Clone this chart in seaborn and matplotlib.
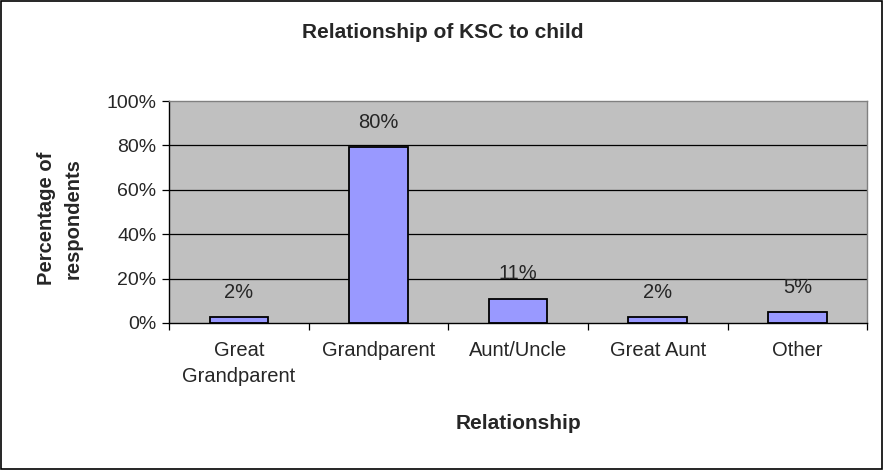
import numpy as np
import pandas as pd
import seaborn as sns
from matplotlib import pyplot as plt
from matplotlib.patches import Rectangle
from matplotlib.ticker import FixedLocator, PercentFormatter

# data
relationships = ['Great\nGrandparent', 'Grandparent', 'Aunt/Uncle', 'Great Aunt', 'Other']
percentages = [2.6, 79.2, 10.9, 2.6, 4.7]
value_labels = ['2%', '80%', '11%', '2%', '5%']
y_ticks = [0, 20, 40, 60, 80, 100]

sns.set_style('white')
plt.rcParams['font.family'] = ['Liberation Sans', 'DejaVu Sans']

df = pd.DataFrame({'relationship': relationships, 'pct': percentages})

fig = plt.figure(figsize=(8.85, 4.7), dpi=100)
ax = fig.add_axes([0.191, 0.313, 0.789, 0.472])
ax.set_facecolor('#C0C0C0')

sns.barplot(data=df, x='relationship', y='pct', color='#9999FF',
            edgecolor='black', linewidth=1.3, width=0.42, saturation=1, ax=ax)

ax.set_ylim(0, 100)
ax.set_xlim(-0.5, len(relationships) - 0.5)
ax.yaxis.set_major_locator(FixedLocator(y_ticks))
ax.yaxis.set_major_formatter(PercentFormatter(decimals=0))
for t in y_ticks[1:-1]:
    ax.axhline(t, color='black', lw=0.9, zorder=0.5)

# category boundary ticks on x
ax.set_xticks(np.arange(-0.5, len(relationships)), minor=True)
ax.tick_params(axis='x', which='major', length=0, pad=13, labelsize=14.5)
ax.tick_params(axis='x', which='minor', length=5, width=0.9, color='black', direction='out')
ax.tick_params(axis='y', length=5, width=0.9, color='black', direction='out', labelsize=14, pad=4)
ax.tick_params(bottom=True, left=True, which='both')
for lab in ax.get_xticklabels():
    lab.set_linespacing(1.45)

for side in ['top', 'right']:
    ax.spines[side].set_color('#808080')
ax.spines['bottom'].set_color('black')
ax.spines['left'].set_color('black')
for s in ax.spines.values():
    s.set_linewidth(1.0)

for i, (v, lab) in enumerate(zip(percentages, value_labels)):
    ax.annotate(lab, (i, v), xytext=(0, 18), textcoords='offset points',
                ha='center', va='center', fontsize=14.5)

ax.set_xlabel('Relationship', fontsize=15, fontweight='bold')
ax.xaxis.set_label_coords(0.5, -0.455)
ax.xaxis.label.set_va('center')
ax.set_ylabel('Percentage of\nrespondents', fontsize=14.5, fontweight='bold', linespacing=1.5)
ax.yaxis.set_label_coords(-0.156, 0.47)
ax.yaxis.label.set_va('center')
fig.text(0.5, 1 - 32 / 470, 'Relationship of KSC to child',
         ha='center', va='center', fontsize=15, fontweight='bold')

fig.patches.append(Rectangle((0.001, 0.002), 0.996, 0.995, transform=fig.transFigure,
                             fill=False, edgecolor='black', lw=1.2))

fig.savefig('out.png', dpi=100)
